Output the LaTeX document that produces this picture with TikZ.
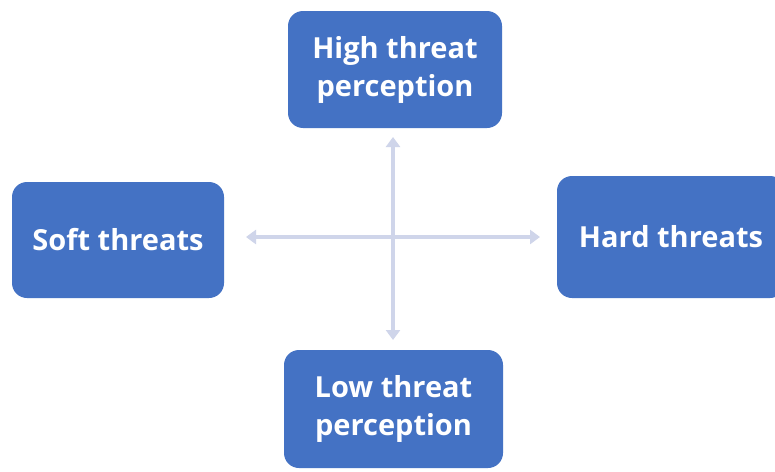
\documentclass[tikz,border=0pt]{standalone}
\usepackage{fontspec}
\setmainfont{Open Sans}
\usetikzlibrary{arrows.meta}
\definecolor{boxblue}{HTML}{4472C4}
\definecolor{axis}{HTML}{CFD5EA}
\begin{document}
\begin{tikzpicture}[x=1pt,y=-1pt,
  box/.style={draw=none,fill=boxblue,rounded corners=15pt,text=white,
    font=\fontsize{29}{38}\selectfont\bfseries,align=center,inner sep=0pt},
  axisline/.style={draw=axis,line width=4.5pt,{Triangle[width=14pt,length=10pt]}-{Triangle[width=14pt,length=10pt]}}]
\useasboundingbox (0,0) rectangle (775,471);
\fill[white] (0,0) rectangle (775,471);
\begin{scope}
\clip (0,0) rectangle (775,471);
\node[box,minimum width=214pt,minimum height=117pt] (high) at (395,69.5) {High threat\\perception};
\node[box,minimum width=212pt,minimum height=116pt] (soft) at (118,240) {Soft threats};
\node[box,minimum width=228pt,minimum height=122pt] (hard) at (671,237) {Hard threats};
\node[box,minimum width=219pt,minimum height=118pt] (low) at (393.5,409) {Low threat\\perception};
\end{scope}
\coordinate (vt) at (393,137);
\coordinate (vb) at (393,340);
\coordinate (hl) at (246,237);
\coordinate (hr) at (540,237);
\draw[axisline] (vt) -- (vb);
\draw[axisline] (hl) -- (hr);
\end{tikzpicture}
\end{document}
